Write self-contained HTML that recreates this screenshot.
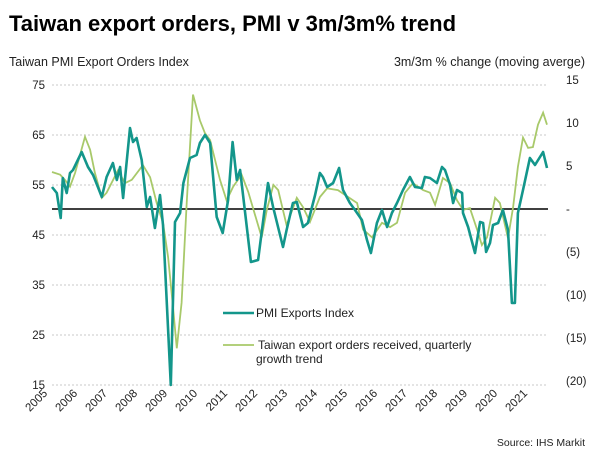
<!DOCTYPE html>
<html><head><meta charset="utf-8"><style>
body{margin:0;background:#fff;font-family:"Liberation Sans",sans-serif;}
svg text{font-family:"Liberation Sans",sans-serif;}
</style></head><body>
<svg width="611" height="470" xmlns="http://www.w3.org/2000/svg" id="chart">
<text x="9" y="31" font-size="22" font-weight="bold" fill="#000">Taiwan export orders, PMI v 3m/3m% trend</text>
<text x="9" y="66" font-size="12.5" fill="#222">Taiwan PMI Export Orders Index</text>
<text x="585" y="66" font-size="12.5" fill="#222" text-anchor="end">3m/3m % change (moving averge)</text>
<g id="grid"></g>
<g id="lticks"></g>
<g id="rticks"></g>
<g id="xticks"></g>
<line x1="52" x2="548" y1="209" y2="209" stroke="#000" stroke-width="1.5"/>
<path id="trend" fill="none" stroke="#a8c96a" stroke-width="1.8"/>
<path id="pmi" fill="none" stroke="#13968b" stroke-width="2.6" stroke-linejoin="round"/>
<g>
<line x1="223" x2="254" y1="313" y2="313" stroke="#13968b" stroke-width="2.6"/>
<text x="256" y="317" font-size="12" fill="#222">PMI Exports Index</text>
<line x1="223" x2="254" y1="345" y2="345" stroke="#a8c96a" stroke-width="1.8"/>
<text x="258" y="349" font-size="12" fill="#222">Taiwan export orders received, quarterly</text>
<text x="256" y="363" font-size="12" fill="#222">growth trend</text>
</g>
<text x="585" y="446" font-size="10.5" fill="#222" text-anchor="end">Source: IHS Markit</text>
</svg>
<script>
const leftTicks=[75,65,55,45,35,25,15];
const rightTicks=[15,10,5,0,-5,-10,-15,-20];
const rightLabels=["15","10","5","-","(5)","(10)","(15)","(20)"];
const years=[2005,2006,2007,2008,2009,2010,2011,2012,2013,2014,2015,2016,2017,2018,2019,2020,2021];
const pmiDates=[2005.00,2005.16,2005.29,2005.36,2005.49,2005.60,2005.70,2005.99,2006.20,2006.37,2006.53,2006.66,2006.82,2007.03,2007.16,2007.27,2007.37,2007.60,2007.70,2007.82,2007.99,2008.16,2008.27,2008.43,2008.60,2008.70,2008.96,2009.10,2009.27,2009.38,2009.60,2009.82,2009.93,2010.10,2010.27,2010.49,2010.69,2010.87,2011.02,2011.16,2011.27,2011.63,2011.87,2012.20,2012.37,2012.70,2012.82,2013.03,2013.16,2013.37,2013.53,2013.77,2013.93,2014.03,2014.17,2014.37,2014.57,2014.70,2014.93,2015.10,2015.33,2015.50,2015.63,2015.83,2016.00,2016.17,2016.33,2016.50,2016.70,2016.93,2017.10,2017.33,2017.43,2017.60,2017.83,2018.00,2018.10,2018.27,2018.37,2018.50,2018.67,2018.70,2018.87,2019.10,2019.27,2019.37,2019.47,2019.60,2019.70,2019.87,2020.03,2020.20,2020.33,2020.43,2020.53,2020.70,2020.93,2021.10,2021.37,2021.50];
const pmiValues=[54.6,53.4,48.4,56.4,53.4,57.4,58,61.6,58.6,57,54.6,52.6,56.6,59.4,56,58.6,52.4,66.4,63.6,64.4,60,50.6,52.6,46.4,53,47,15,47.6,49.4,55.4,60.4,61,63.4,65,63.4,48.6,45.4,52,63.6,56,58,39.6,40,55.4,50.6,42.6,46,51.4,51.6,46.6,47.4,53,57.4,56.6,54.6,55.4,58.4,54,51.4,50,48,44,41.4,47.4,50,46.6,49.4,51.4,54,56.6,54.6,54.4,56.6,56.4,55.4,58.6,58,55,51.4,54,53.4,49.4,46.6,41.4,47.6,47.4,41.6,43.4,47,47.4,50,46,31.4,31.4,49.4,54,60.4,59,61.6,58.4];
const trendDates=[2005.00,2005.27,2005.43,2005.60,2005.77,2006.10,2006.27,2006.43,2006.66,2006.82,2007.20,2007.43,2007.66,2008.03,2008.27,2008.49,2008.70,2008.87,2009.02,2009.16,2009.32,2009.49,2009.70,2009.93,2010.10,2010.27,2010.60,2010.82,2011.04,2011.32,2011.54,2011.99,2012.16,2012.38,2012.54,2012.82,2013.16,2013.37,2013.60,2013.93,2014.17,2014.53,2014.87,2015.17,2015.37,2015.67,2016.00,2016.27,2016.50,2016.77,2017.03,2017.37,2017.60,2017.77,2018.03,2018.27,2018.50,2018.70,2018.93,2019.17,2019.33,2019.50,2019.77,2019.93,2020.20,2020.37,2020.53,2020.70,2020.87,2021.03,2021.20,2021.37,2021.50];
const trendValues=[4.3,4.0,3.4,2.6,4.2,8.4,6.9,4.2,1.3,1.9,4.5,3.0,3.4,5.1,3.7,0.7,-1.6,-5.6,-10.9,-16.2,-10.9,0.7,13.3,10.3,8.8,8.0,3.4,1.0,2.6,4.0,2.0,-3.3,-0.1,2.8,2.2,-1.9,1.3,0.2,-1.5,1.4,2.4,2.2,1.4,0.7,-2.4,-3.3,-1.6,-2.1,-1.6,1.9,3.0,2.2,1.9,0.5,3.6,3.0,1.0,-0.1,0.1,-2.4,-4.2,-3.3,1.3,0.7,-3.4,0.2,4.9,8.3,7.1,7.2,9.8,11.2,9.8];
const X0=52,PXY=30;
const xs=t=>X0+(t-2005)*PXY;
const yl=v=>85+(75-v)*5;
const yr=v=>209-v*8.6;
const NS="http://www.w3.org/2000/svg";
function mk(tag,attrs,parent,txt){const e=document.createElementNS(NS,tag);for(const k in attrs)e.setAttribute(k,attrs[k]);if(txt!==undefined)e.textContent=txt;document.getElementById(parent).appendChild(e);return e;}
leftTicks.forEach(v=>{
  const g=mk('line',{x1:52,x2:548,y1:yl(v),y2:yl(v),stroke:'#c8c8c8','stroke-width':1,'stroke-dasharray':'2,2'},'grid');
  
  
  const t=mk('text',{x:45,y:yl(v)+4,'font-size':11.5,'text-anchor':'end',fill:'#222'},'lticks',String(v));
  
  
});
rightTicks.forEach((v,i)=>{
  const t=mk('text',{x:566,y:yr(v)+4,'font-size':11.5,fill:'#222'},'rticks',rightLabels[i]);
  
  
});
years.forEach(y=>{
  const x=xs(y)-4;
  const t=mk('text',{x:x,y:394,'font-size':11.5,'text-anchor':'end',fill:'#222',transform:`rotate(-45 ${x} 394)`},'xticks',String(y));
  
  
});
document.getElementById('pmi').setAttribute('d',pmiDates.map((t,i)=>(i?'L':'M')+xs(t).toFixed(1)+','+yl(pmiValues[i]).toFixed(1)).join(''));
document.getElementById('trend').setAttribute('d',trendDates.map((t,i)=>(i?'L':'M')+xs(t).toFixed(1)+','+yr(trendValues[i]).toFixed(1)).join(''));
</script>
</body></html>
